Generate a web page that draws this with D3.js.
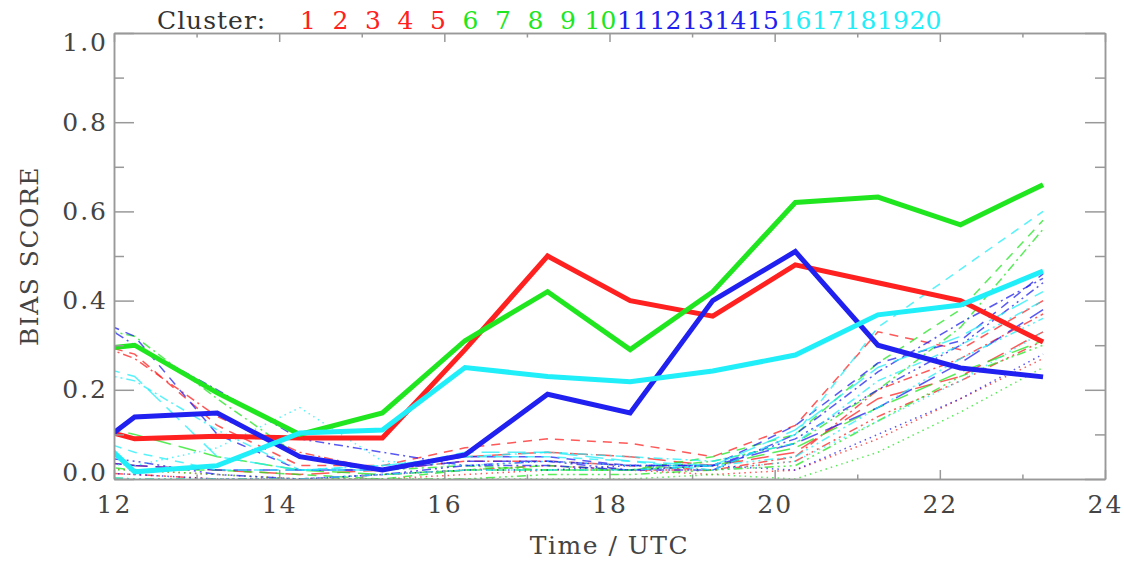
<!DOCTYPE html>
<html>
<head>
<meta charset="utf-8">
<script src="https://cdn.jsdelivr.net/npm/d3@7"></script>
<style>
  body { margin: 0; background: #fff; }
  svg { display: block; }
  .axis path, .axis line { stroke: #999; stroke-width: 1.5; }
  .axis text { font-family: "DejaVu Serif", "Liberation Serif", serif; font-size: 25px; fill: #444; letter-spacing: 2px; }
  .title { font-family: "DejaVu Serif", "Liberation Serif", serif; font-size: 25px; fill: #444; letter-spacing: 1.5px; }
</style>
</head>
<body>
<svg></svg>
<script>
// times of the hourly values (first point lies left of the plot and is clipped)
var hours = [11.25, 12.25, 13.25, 14.25, 15.25, 16.25, 17.25, 18.25, 19.25, 20.25, 21.25, 22.25, 23.25];

// thick lines: mean of each colour group
var meanRed   = [0.14, 0.09, 0.096, 0.092, 0.092, 0.29, 0.50, 0.40, 0.365, 0.48, 0.44, 0.40, 0.307];
var meanGreen = [0.28, 0.30, 0.193, 0.10, 0.148, 0.31, 0.42, 0.29, 0.42, 0.62, 0.632, 0.57, 0.66];
var meanBlue  = [0.0, 0.139, 0.148, 0.05, 0.02, 0.054, 0.19, 0.148, 0.40, 0.51, 0.30, 0.249, 0.229];
var meanCyan  = [0.19, 0.016, 0.03, 0.103, 0.11, 0.25, 0.23, 0.218, 0.242, 0.278, 0.368, 0.39, 0.466];

// thin lines: clusters 1-5 (red), 6-10 (green), 11-15 (blue), 16-20 (cyan)
var clustersRed = [
  [0.03, 0.02, 0.01, 0.0, 0.0, 0.01, 0.02, 0.02, 0.01, 0.02, 0.09, 0.18, 0.27],
  [0.33, 0.28, 0.12, 0.03, 0.03, 0.07, 0.09, 0.08, 0.05, 0.12, 0.33, 0.29, 0.40],
  [0.34, 0.27, 0.14, 0.06, 0.02, 0.04, 0.04, 0.03, 0.02, 0.05, 0.20, 0.27, 0.37],
  [0.02, 0.01, 0.0, 0.0, 0.01, 0.02, 0.03, 0.02, 0.02, 0.04, 0.14, 0.22, 0.31],
  [0.05, 0.03, 0.02, 0.01, 0.02, 0.05, 0.06, 0.05, 0.03, 0.06, 0.18, 0.23, 0.33]
];
var clustersGreen = [
  [0.02, 0.02, 0.01, 0.0, 0.0, 0.0, 0.0, 0.0, 0.01, 0.0, 0.06, 0.15, 0.25],
  [0.04, 0.02, 0.02, 0.01, 0.0, 0.02, 0.03, 0.02, 0.05, 0.10, 0.26, 0.38, 0.58],
  [0.36, 0.32, 0.18, 0.05, 0.02, 0.03, 0.02, 0.02, 0.04, 0.08, 0.20, 0.34, 0.56],
  [0.01, 0.0, 0.0, 0.0, 0.0, 0.0, 0.01, 0.01, 0.02, 0.03, 0.13, 0.23, 0.30],
  [0.14, 0.10, 0.05, 0.02, 0.01, 0.02, 0.02, 0.02, 0.03, 0.07, 0.16, 0.24, 0.31]
];
var clustersBlue = [
  [0.02, 0.01, 0.0, 0.0, 0.01, 0.02, 0.02, 0.03, 0.03, 0.02, 0.10, 0.18, 0.28],
  [0.40, 0.32, 0.10, 0.02, 0.02, 0.05, 0.05, 0.03, 0.03, 0.12, 0.26, 0.31, 0.46],
  [0.42, 0.30, 0.20, 0.09, 0.06, 0.03, 0.03, 0.02, 0.02, 0.10, 0.24, 0.35, 0.45],
  [0.06, 0.04, 0.01, 0.0, 0.01, 0.03, 0.04, 0.02, 0.03, 0.09, 0.20, 0.30, 0.44],
  [0.05, 0.03, 0.02, 0.02, 0.02, 0.04, 0.04, 0.03, 0.03, 0.08, 0.16, 0.26, 0.38]
];
var clustersCyan = [
  [0.04, 0.03, 0.07, 0.16, 0.04, 0.03, 0.04, 0.03, 0.02, 0.04, 0.13, 0.22, 0.33],
  [0.12, 0.06, 0.02, 0.02, 0.03, 0.05, 0.05, 0.04, 0.02, 0.10, 0.34, 0.47, 0.60],
  [0.26, 0.22, 0.11, 0.02, 0.03, 0.05, 0.06, 0.05, 0.04, 0.08, 0.22, 0.30, 0.40],
  [0.01, 0.0, 0.0, 0.0, 0.01, 0.02, 0.02, 0.02, 0.03, 0.05, 0.16, 0.27, 0.36],
  [0.28, 0.23, 0.05, 0.02, 0.02, 0.06, 0.06, 0.04, 0.03, 0.11, 0.25, 0.32, 0.42]
];

var clusterLabels = ["1","2","3","4","5","6","7","8","9","10",
                     "11","12","13","14","15","16","17","18","19","20"];
var xTicks = [12, 14, 16, 18, 20, 22, 24];
var xMinor = [13, 15, 17, 19, 21, 23];
var yTicks = [0.0, 0.2, 0.4, 0.6, 0.8, 1.0];
var yMinor = [0.1, 0.3, 0.5, 0.7, 0.9];

var colors = ["#ff2020", "#20e620", "#2020f0", "#20eef8"];
var dashes = ["1.5,4", "9,7", "9,4,2,4", "9,4,2,4,2,4,2,4", "18,8"];

var margin = {top: 33, right: 19, bottom: 84, left: 114},
    width = 1124 - margin.left - margin.right,
    height = 563 - margin.top - margin.bottom;

var x = d3.scaleLinear().domain([12, 24]).range([0, width]);
var y = d3.scaleLinear().domain([0, 1]).range([height, 0]);

var svg = d3.select("svg")
    .attr("width", width + margin.left + margin.right)
    .attr("height", height + margin.top + margin.bottom);

svg.append("defs").append("clipPath")
    .attr("id", "plotclip")
  .append("rect")
    .attr("width", width)
    .attr("height", height);

var g = svg.append("g")
    .attr("transform", "translate(" + margin.left + "," + margin.top + ")");

var line = d3.line()
    .x(function(d, i) { return x(hours[i]); })
    .y(function(d) { return y(d); });

var plot = g.append("g").attr("clip-path", "url(#plotclip)");

// thin cluster lines
[clustersRed, clustersGreen, clustersBlue, clustersCyan].forEach(function(group, gi) {
    group.forEach(function(vals, k) {
        plot.append("path")
            .attr("fill", "none")
            .attr("stroke", colors[gi])
            .attr("stroke-width", 1.5)
            .attr("stroke-opacity", 0.75)
            .attr("stroke-dasharray", dashes[k])
            .attr("d", line(vals));
    });
});

// thick group means
[meanRed, meanGreen, meanBlue, meanCyan].forEach(function(vals, gi) {
    plot.append("path")
        .attr("fill", "none")
        .attr("stroke", colors[gi])
        .attr("stroke-width", 5)
        .attr("d", line(vals));
});

// axes, ticks pointing inward on all four sides
g.append("g").attr("class", "axis")
    .attr("transform", "translate(0," + height + ")")
    .call(d3.axisBottom(x).tickValues(xTicks).tickSizeInner(-9).tickSizeOuter(0).tickPadding(16));
g.append("g").attr("class", "axis")
    .attr("transform", "translate(0," + height + ")")
    .call(d3.axisBottom(x).tickValues(xMinor).tickSizeInner(-4.5).tickSizeOuter(0).tickFormat(""));
g.append("g").attr("class", "axis")
    .call(d3.axisTop(x).tickValues(xTicks).tickSizeInner(-9).tickSizeOuter(0).tickFormat(""));
g.append("g").attr("class", "axis")
    .call(d3.axisTop(x).tickValues(xMinor).tickSizeInner(-4.5).tickSizeOuter(0).tickFormat(""));

var yAxis = g.append("g").attr("class", "axis")
    .call(d3.axisLeft(y).tickValues(yTicks).tickSizeInner(-20).tickSizeOuter(0)
        .tickPadding(6).tickFormat(d3.format(".1f")));
g.append("g").attr("class", "axis")
    .call(d3.axisLeft(y).tickValues(yMinor).tickSizeInner(-10).tickSizeOuter(0).tickFormat(""));
g.append("g").attr("class", "axis")
    .attr("transform", "translate(" + width + ",0)")
    .call(d3.axisRight(y).tickValues(yTicks).tickSizeInner(-20).tickSizeOuter(0).tickFormat(""));
g.append("g").attr("class", "axis")
    .attr("transform", "translate(" + width + ",0)")
    .call(d3.axisRight(y).tickValues(yMinor).tickSizeInner(-10).tickSizeOuter(0).tickFormat(""));

// end labels sit a little inside the box
yAxis.selectAll(".tick text")
    .attr("dy", function(d) { return d === 1 ? "0.7em" : (d === 0 ? "0.05em" : "0.32em"); });

// axis titles
g.append("text")
    .attr("class", "title")
    .attr("x", width / 2)
    .attr("y", height + 75)
    .attr("text-anchor", "middle")
    .text("Time / UTC");

g.append("text")
    .attr("class", "title")
    .attr("transform", "translate(-76," + (height / 2) + ") rotate(-90)")
    .attr("text-anchor", "middle")
    .text("BIAS SCORE");

// cluster legend along the top
var legend = svg.append("g")
    .attr("class", "title");

legend.append("text")
    .attr("x", 157)
    .attr("y", 29)
    .style("letter-spacing", "1px")
    .style("fill", "#333")
    .text("Cluster:");

legend.selectAll(".num")
    .data(clusterLabels)
  .enter().append("text")
    .attr("class", "num")
    .attr("x", function(d, i) { return 308 + i * 32.5; })
    .attr("y", 29)
    .attr("text-anchor", "middle")
    .style("letter-spacing", "0px")
    .style("fill", function(d, i) { return colors[Math.floor(i / 5)]; })
    .text(function(d) { return d; });
</script>
</body>
</html>
